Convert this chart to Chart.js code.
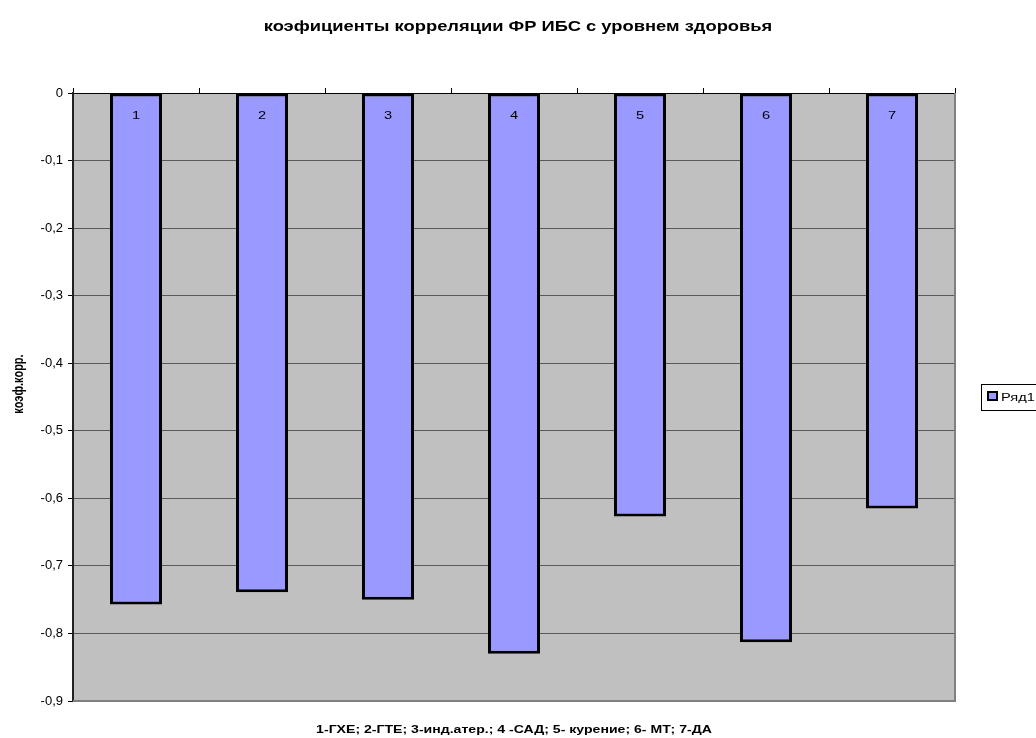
<!DOCTYPE html>
<html>
<head>
<meta charset="utf-8">
<script src="https://cdn.jsdelivr.net/npm/chart.js@4/dist/chart.umd.min.js"></script>
<style>
  html, body { margin: 0; padding: 0; background: #ffffff; }
  canvas { display: block; }
</style>
</head>
<body>
<canvas id="c" width="1036" height="738"></canvas>
<script>
// Correlation coefficients of IHD risk factors with health level
const categories = ['1', '2', '3', '4', '5', '6', '7'];
const seriesName = 'Ряд1';
const coefficients = [-0.757, -0.739, -0.75, -0.83, -0.627, -0.813, -0.615];
const yMin = -0.9;
const yMax = 0;
const yStep = 0.1;

const chartTitle = 'коэфициенты корреляции ФР ИБС с уровнем здоровья';
const xAxisTitle = '1-ГХЕ; 2-ГТЕ; 3-инд.атер.; 4 -САД; 5- курение; 6- МТ; 7-ДА';
const yAxisTitle = 'коэф.корр.';

const FONT = '"Liberation Sans", Arial, Helvetica, sans-serif';
const BAR_FILL = '#9999FF';
const PLOT_BG = '#C0C0C0';
const WIDE = 1.33; // glyphs are set in a horizontally widened face

const fmt = v => {
  const r = Math.round(v * 10) / 10;
  return r === 0 ? '0' : r.toFixed(1).replace('.', ',');
};

// text drawn with a horizontal stretch factor
function wideText(ctx, text, x, y, sx) {
  ctx.save();
  ctx.translate(x, y);
  ctx.scale(sx, 1);
  ctx.fillText(text, 0, 0);
  ctx.restore();
}

const decorations = {
  id: 'decorations',
  beforeDraw(chart) {
    const { ctx, chartArea: a } = chart;
    ctx.save();
    ctx.fillStyle = '#ffffff';
    ctx.fillRect(0, 0, chart.width, chart.height);
    ctx.fillStyle = PLOT_BG;
    ctx.fillRect(a.left, a.top, a.right - a.left, a.bottom - a.top);
    ctx.restore();
  },
  afterDatasetsDraw(chart) {
    const { ctx, chartArea: a } = chart;
    ctx.save();
    // plot frame (right and bottom)
    ctx.strokeStyle = '#808080';
    ctx.lineWidth = 2;
    ctx.beginPath();
    ctx.moveTo(a.right, a.top);
    ctx.lineTo(a.right, a.bottom);
    ctx.lineTo(a.left, a.bottom);
    ctx.stroke();
    // category numbers inside bars
    const meta = chart.getDatasetMeta(0);
    ctx.fillStyle = '#000';
    ctx.font = '11px ' + FONT;
    ctx.textAlign = 'center';
    ctx.textBaseline = 'middle';
    meta.data.forEach((bar, i) => {
      wideText(ctx, categories[i], bar.x, a.top + 23, WIDE);
    });
    ctx.restore();
  },
  afterDraw(chart) {
    const { ctx, chartArea: a } = chart;
    ctx.save();
    ctx.fillStyle = '#000';
    ctx.textAlign = 'center';
    ctx.textBaseline = 'middle';
    ctx.font = 'bold 14px ' + FONT;
    wideText(ctx, chartTitle, 518, 27, 1.31);
    ctx.font = 'bold 11px ' + FONT;
    wideText(ctx, xAxisTitle, (a.left + a.right) / 2, 730, 1.28);
    ctx.save();
    ctx.translate(19, 384);
    ctx.scale(WIDE, 1);
    ctx.rotate(-Math.PI / 2);
    ctx.fillText(yAxisTitle, 0, 0);
    ctx.restore();
    // legend
    const lx = 981, ly = 384, lw = 70, lh = 26;
    ctx.fillStyle = '#ffffff';
    ctx.fillRect(lx, ly, lw, lh);
    ctx.strokeStyle = '#000';
    ctx.lineWidth = 1;
    ctx.strokeRect(lx + 0.5, ly + 0.5, lw, lh);
    ctx.fillStyle = BAR_FILL;
    ctx.fillRect(lx + 7, ly + 8, 9, 8);
    ctx.lineWidth = 2;
    ctx.strokeRect(lx + 7, ly + 8, 9, 8);
    ctx.fillStyle = '#000';
    ctx.textAlign = 'left';
    ctx.font = '11px ' + FONT;
    wideText(ctx, chart.data.datasets[0].label, lx + 20, ly + lh / 2 + 0.5, WIDE);
    ctx.restore();
  }
};

new Chart(document.getElementById('c'), {
  type: 'bar',
  data: {
    labels: categories,
    datasets: [{
      label: seriesName,
      data: coefficients,
      backgroundColor: BAR_FILL,
      borderColor: '#000000',
      borderWidth: 3,
      borderSkipped: false,
      categoryPercentage: 1,
      barPercentage: 0.413
    }]
  },
  options: {
    responsive: false,
    animation: false,
    devicePixelRatio: 1,
    layout: { padding: { top: 88, left: 0, right: 81, bottom: 37 } },
    plugins: {
      legend: { display: false },
      title: { display: false },
      tooltip: { enabled: false }
    },
    scales: {
      x: {
        type: 'category',
        position: 'top',
        ticks: { display: false },
        grid: {
          offset: true,
          drawOnChartArea: false,
          drawTicks: true,
          tickLength: 5,
          color: '#000'
        },
        border: { display: true, color: '#000', width: 1 },
        afterFit(scale) { scale.height = 5; }
      },
      y: {
        min: yMin,
        max: yMax,
        ticks: {
          stepSize: yStep,
          color: '#000',
          padding: 5,
          font: { family: FONT, size: 13 },
          callback: v => fmt(v)
        },
        grid: {
          color: ctx => {
            const v = Math.round(ctx.tick.value * 10) / 10;
            if (v === 0) return '#000';
            if (v === yMin) return '#808080';
            return '#5a5a5a';
          },
          tickColor: '#000',
          tickLength: 5,
          lineWidth: 1
        },
        border: { display: true, color: '#222', width: 2 },
        afterFit(scale) { scale.width = 73; }
      }
    }
  },
  plugins: [decorations]
});
</script>
</body>
</html>
